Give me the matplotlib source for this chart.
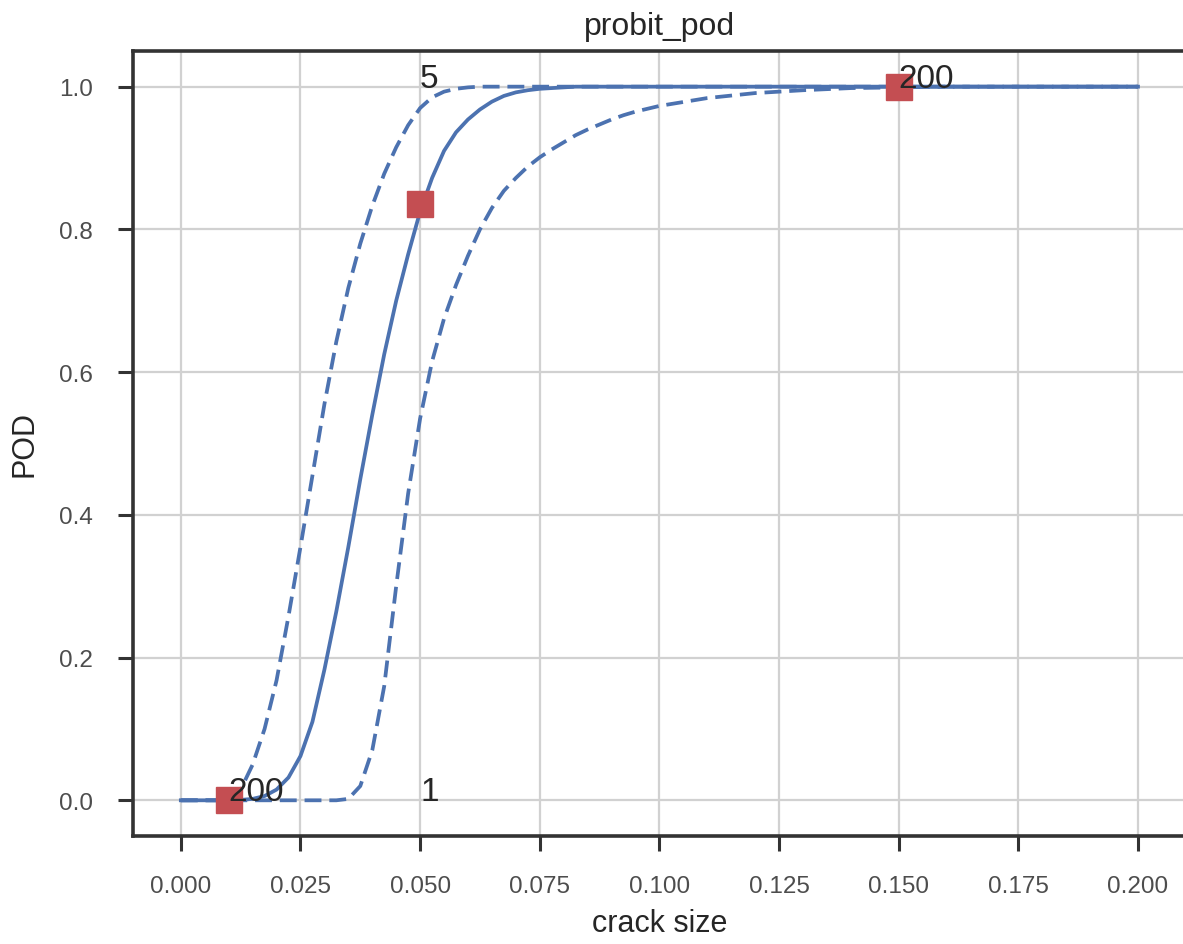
import matplotlib
matplotlib.use("Agg")
import matplotlib.pyplot as plt

plt.rcParams['font.family'] = ['Liberation Sans', 'DejaVu Sans']

# crack sizes: fine steps up to 0.1, coarser after
crack = [round(i * 0.0025, 4) for i in range(41)] + \
        [0.11, 0.12, 0.13, 0.14, 0.15, 0.16, 0.17, 0.18, 0.19, 0.2]

pod = [0.0, 0.0, 0.0, 0.0, 0.0, 0.0005, 0.002, 0.006, 0.015, 0.032,
       0.062, 0.11, 0.183, 0.265, 0.355, 0.45, 0.54, 0.625, 0.70, 0.765,
       0.825, 0.872, 0.91, 0.936, 0.954, 0.968, 0.979, 0.987, 0.992, 0.995,
       0.997, 0.998, 0.999, 1.0, 1.0, 1.0, 1.0, 1.0, 1.0, 1.0,
       1.0,
       1.0, 1.0, 1.0, 1.0, 1.0, 1.0, 1.0, 1.0, 1.0, 1.0]

pod_upper = [0.0, 0.0, 0.0, 0.0, 0.0, 0.015, 0.05, 0.10, 0.168, 0.258,
             0.355, 0.455, 0.555, 0.643, 0.718, 0.78, 0.833, 0.878, 0.915, 0.946,
             0.97, 0.985, 0.993, 0.997, 0.999, 1.0, 1.0, 1.0, 1.0, 1.0,
             1.0, 1.0, 1.0, 1.0, 1.0, 1.0, 1.0, 1.0, 1.0, 1.0,
             1.0,
             1.0, 1.0, 1.0, 1.0, 1.0, 1.0, 1.0, 1.0, 1.0, 1.0]

pod_lower = [0.0, 0.0, 0.0, 0.0, 0.0, 0.0, 0.0, 0.0, 0.0, 0.0,
             0.0, 0.0, 0.0, 0.0, 0.002, 0.02, 0.07, 0.16, 0.30, 0.43,
             0.535, 0.615, 0.675, 0.722, 0.763, 0.80, 0.83, 0.854, 0.872, 0.888,
             0.901, 0.912, 0.922, 0.932, 0.94, 0.947, 0.954, 0.96, 0.965, 0.969,
             0.973,
             0.984, 0.991, 0.995, 0.998, 0.999, 1.0, 1.0, 1.0, 1.0, 1.0]

# marked points and their labels
mark_x = [0.01, 0.05, 0.15]
mark_y = [0.0, 0.835, 1.0]
note_x = [0.01, 0.05, 0.05, 0.15]
note_y = [0.0, 1.0, 0.0, 1.0]
note_txt = ['200', '5', '1', '200']

blue = '#4C72B0'
red = '#C44E52'

fig = plt.figure(figsize=(11.83, 9.45), dpi=100)
ax = fig.add_axes([0.1124, 0.1143, 0.890, 0.8307])

dash = (0, (4.5, 2.1))
ax.plot(crack, pod, color=blue, lw=2.7)
ax.plot(crack, pod_upper, color=blue, lw=2.7, linestyle=dash)
ax.plot(crack, pod_lower, color=blue, lw=2.7, linestyle=dash)
ax.plot(mark_x, mark_y, 's', color=red, markersize=19)

for x, y, t in zip(note_x, note_y, note_txt):
    ax.text(x, y, t, fontsize=24, color='.15')

ax.set_xlim(-0.01, 0.21)
ax.set_ylim(-0.05, 1.05)
ax.set_xticks([0.0, 0.025, 0.05, 0.075, 0.1, 0.125, 0.15, 0.175, 0.2])
ax.set_xticklabels(['0.000', '0.025', '0.050', '0.075', '0.100',
                    '0.125', '0.150', '0.175', '0.200'])
ax.set_yticks([0.0, 0.2, 0.4, 0.6, 0.8, 1.0])
ax.set_yticklabels(['0.0', '0.2', '0.4', '0.6', '0.8', '1.0'])

ax.grid(True, color='.82', lw=1.6)
ax.set_axisbelow(True)
for s in ax.spines.values():
    s.set_color('.2')
    s.set_linewidth(2.6)
ax.tick_params(axis='both', direction='out', length=11, width=2.2,
               color='.2', labelsize=17.5, labelcolor='.3')
ax.tick_params(axis='x', pad=17)
ax.tick_params(axis='y', pad=18)

ax.set_title('probit_pod', fontsize=23, color='.15', pad=12)
ax.set_xlabel('crack size', fontsize=22, color='.15', labelpad=8)
ax.set_ylabel('POD', fontsize=22, color='.15', labelpad=14)

fig.savefig('out.png', dpi=100)
